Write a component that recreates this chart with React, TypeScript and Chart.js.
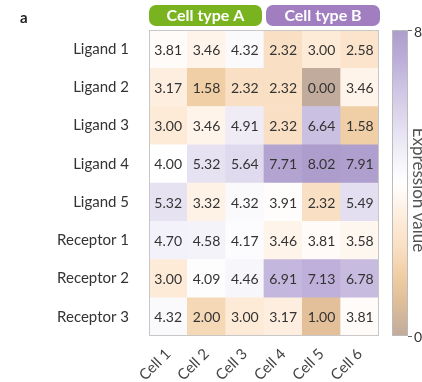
import React, { useEffect, useRef } from "react";
import { Chart, registerables } from "chart.js";

Chart.register(...registerables);

const cells = ["Cell 1", "Cell 2", "Cell 3", "Cell 4", "Cell 5", "Cell 6"];
const rowLabels = ["Ligand 1", "Ligand 2", "Ligand 3", "Ligand 4", "Ligand 5", "Receptor 1", "Receptor 2", "Receptor 3"];
const values: number[][] = [
  [3.81, 3.46, 4.32, 2.32, 3.0, 2.58],
  [3.17, 1.58, 2.32, 2.32, 0.0, 3.46],
  [3.0, 3.46, 4.91, 2.32, 6.64, 1.58],
  [4.0, 5.32, 5.64, 7.71, 8.02, 7.91],
  [5.32, 3.32, 4.32, 3.91, 2.32, 5.49],
  [4.7, 4.58, 4.17, 3.46, 3.81, 3.58],
  [3.0, 4.09, 4.46, 6.91, 7.13, 6.78],
  [4.32, 2.0, 3.0, 3.17, 1.0, 3.81],
];
const groups = ["Cell type A", "Cell type B"];
const colorbarTicks = [0, 8];
const colorbarTitle = "Expression value";

const stops: [number, string][] = [
  [0, "#c0ab9c"],
  [1, "#e3c09a"],
  [1.6, "#f0cea6"],
  [2.3, "#f9dfc2"],
  [3, "#fdebd8"],
  [3.5, "#fef5ec"],
  [4, "#ffffff"],
  [4.6, "#f5f3fa"],
  [5.3, "#e7e3f2"],
  [6.6, "#cbc1e2"],
  [7.2, "#bcaed9"],
  [8, "#ad9dcd"],
];

function hex(c: string) {
  return [1, 3, 5].map((i) => parseInt(c.slice(i, i + 2), 16));
}
function colorFor(v: number) {
  if (v <= stops[0][0]) return stops[0][1];
  for (let i = 1; i < stops.length; i++) {
    if (v <= stops[i][0]) {
      const [v0, c0] = stops[i - 1];
      const [v1, c1] = stops[i];
      const t = (v - v0) / (v1 - v0);
      const a = hex(c0), b = hex(c1);
      const m = a.map((x, k) => Math.round(x + (b[k] - x) * t));
      return `rgb(${m[0]},${m[1]},${m[2]})`;
    }
  }
  return stops[stops.length - 1][1];
}

const FONT = "Lato, 'Open Sans', sans-serif";

const overlay = {
  id: "overlay",
  afterDatasetsDraw(chart: any) {
    const ctx = chart.ctx;
    const area = chart.chartArea;
    const xs = chart.scales.x;
    ctx.save();
    // values
    ctx.fillStyle = "#333";
    ctx.font = `14px ${FONT}`;
    ctx.textAlign = "center";
    ctx.textBaseline = "middle";
    chart.data.datasets.forEach((ds: any, i: number) => {
      const meta = chart.getDatasetMeta(i);
      const row = rowLabels.length - 1 - i;
      meta.data.forEach((el: any, j: number) => {
        const cy = (el.y + el.base) / 2;
        ctx.fillText(values[row][j].toFixed(2), el.x, cy + 1);
      });
    });
    // border
    ctx.strokeStyle = "#c8c8c8";
    ctx.lineWidth = 1;
    ctx.strokeRect(area.left + 0.5, area.top + 0.5, area.right - area.left - 1, area.bottom - area.top - 1);

    // group pills
    const colW = (area.right - area.left) / cells.length;
    const mid = xs.getPixelForValue(2) + colW / 2;
    const pills = [
      { x0: area.left, x1: mid - 2, fill: "#79b31f", label: groups[0] },
      { x0: mid + 2, x1: area.right + 1, fill: "#a07ebf", label: groups[1] },
    ];
    pills.forEach((p) => {
      ctx.beginPath();
      (ctx as any).roundRect(p.x0, 5, p.x1 - p.x0, 21, 7);
      ctx.fillStyle = p.fill;
      ctx.fill();
      ctx.fillStyle = "#fff";
      ctx.font = `bold 16px ${FONT}`;
      ctx.fillText(p.label, (p.x0 + p.x1) / 2, 16);
    });

    // panel letter
    ctx.fillStyle = "#222";
    ctx.font = `bold 15px ${FONT}`;
    ctx.textAlign = "left";
    ctx.fillText("a", 20, 18);

    // colorbar
    const cbX = 392, cbW = 16;
    const cbTop = area.top, cbBot = area.bottom;
    const g = ctx.createLinearGradient(0, cbBot, 0, cbTop);
    const vmax = colorbarTicks[colorbarTicks.length - 1];
    stops.forEach(([v, c]) => g.addColorStop(v / vmax, c));
    ctx.fillStyle = g;
    ctx.fillRect(cbX, cbTop, cbW, cbBot - cbTop);
    ctx.strokeStyle = "#bbb";
    ctx.strokeRect(cbX + 0.5, cbTop + 0.5, cbW - 1, cbBot - cbTop - 1);
    ctx.fillStyle = "#333";
    ctx.font = `14px ${FONT}`;
    ctx.textAlign = "left";
    ctx.strokeStyle = "#666";
    colorbarTicks.forEach((t) => {
      const y = cbBot - (t / vmax) * (cbBot - cbTop);
      ctx.beginPath();
      ctx.moveTo(cbX + cbW, y + 0.5);
      ctx.lineTo(cbX + cbW + 4, y + 0.5);
      ctx.stroke();
      ctx.fillText(String(t), cbX + cbW + 6, y + (t === 0 ? 1 : 2));
    });
    ctx.save();
    ctx.translate(413, 190);
    ctx.rotate(Math.PI / 2);
    ctx.textAlign = "center";
    ctx.textBaseline = "alphabetic";
    ctx.fillStyle = "#555";
    ctx.font = `17px ${FONT}`;
    ctx.fillText(colorbarTitle, 0, 0);
    ctx.restore();
    ctx.restore();
  },
};

export default function App() {
  const ref = useRef<HTMLCanvasElement>(null);
  useEffect(() => {
    if (!ref.current) return;
    const datasets = rowLabels
      .map((_, r) => r)
      .reverse()
      .map((r) => ({
        label: rowLabels[r],
        data: cells.map(() => 1),
        backgroundColor: values[r].map((v) => colorFor(v)),
        borderWidth: 0,
        categoryPercentage: 1,
        barPercentage: 1,
      }));
    const chart = new Chart(ref.current, {
      type: "bar",
      data: { labels: cells, datasets },
      plugins: [overlay],
      options: {
        animation: false,
        responsive: false,
        maintainAspectRatio: false,
        layout: { padding: { top: 30, right: 43, left: 0, bottom: 0 } },
        plugins: { legend: { display: false }, tooltip: { enabled: false } },
        scales: {
          x: {
            stacked: true,
            grid: { display: false },
            border: { display: false },
            ticks: {
              maxRotation: 45,
              minRotation: 45,
              color: "#444",
              font: { family: FONT, size: 15 },
              padding: 1,
            },
            afterFit: (s: any) => {
              s.height = 46;
            },
          },
          y: {
            stacked: true,
            min: 0,
            max: 8,
            grid: { display: false },
            border: { display: false },
            afterBuildTicks: (s: any) => {
              s.ticks = rowLabels.map((_, i) => ({ value: i + 0.5 }));
            },
            ticks: {
              color: "#333",
              font: { family: FONT, size: 15 },
              padding: 12,
              callback: (v: any) => rowLabels[rowLabels.length - 1 - Math.floor(Number(v))],
            },
            afterFit: (s: any) => {
              s.width = 149;
            },
          },
        },
      },
    });
    return () => chart.destroy();
  }, []);
  return (
    <div style={{ position: "absolute", left: 0, top: 0, width: 422, height: 382, background: "#fff" }}>
      <canvas ref={ref} width={422} height={382} style={{ width: 422, height: 382 }} />
    </div>
  );
}
